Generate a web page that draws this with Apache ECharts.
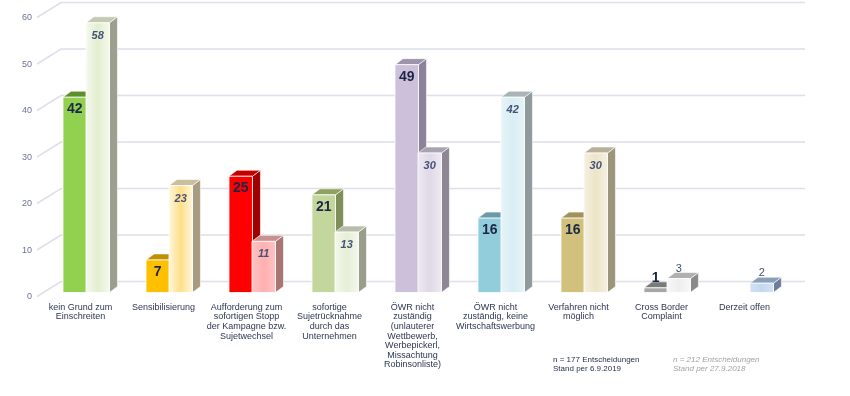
<!DOCTYPE html>
<html>
<head>
<meta charset="utf-8">
<script src="https://cdn.jsdelivr.net/npm/echarts@6/dist/echarts.min.js"></script>
<style>
html,body{margin:0;padding:0;background:#fff;}
#chart{width:850px;height:396px;}
</style>
</head>
<body>
<div id="chart"></div>
<script>
// ---- data ----
const categories = [
  'kein Grund zum\nEinschreiten',
  'Sensibilisierung',
  'Aufforderung zum\nsofortigen Stopp\nder Kampagne bzw.\nSujetwechsel',
  'sofortige\nSujetrücknahme\ndurch das\nUnternehmen',
  'ÖWR nicht\nzuständig\n(unlauterer\nWettbewerb,\nWerbepickerl,\nMissachtung\nRobinsonliste)',
  'ÖWR nicht\nzuständig, keine\nWirtschaftswerbung',
  'Verfahren nicht\nmöglich',
  'Cross Border\nComplaint',
  'Derzeit offen'
];
const values2019 = [42, 7, 25, 21, 49, 16, 16, 1, null];
const values2018 = [58, 23, 11, 13, 30, 42, 30, 3, 2];
const yTicks = [0, 10, 20, 30, 40, 50, 60];
const note2019 = ['n = 177 Entscheidungen', 'Stand per 6.9.2019'];
const note2018 = ['n = 212 Entscheidungen', 'Stand per 27.9.2018'];

// ---- styles ----
const colors2019 = [
  ['#92d050', '#5f8f2a', '#6a9a36'],
  ['#ffc000', '#c09000', '#b08a10'],
  ['#ff0000', '#c40000', '#a00000'],
  ['#c3d69b', '#8fa063', '#7f8f5a'],
  ['#ccc0da', '#9d93ab', '#8c8299'],
  ['#92cddc', '#6a9aa8', '#5f8a96'],
  ['#d1c17c', '#a0925a', '#8f8350'],
  ['#a6a6a6', '#7a7a7a', '#6f6f6f'],
  ['#cccccc', '#999999', '#888888']
];
const colors2018 = [
  ['#e3eecf', '#f5f9ee', '#c4c8b4', '#9c9f8e'],
  ['#fddf88', '#fff7de', '#cbbf9f', '#a89c80'],
  ['#ffb0b0', '#ffc2c2', '#c89090', '#a87474'],
  ['#e5eed6', '#f4f8ed', '#b8bcaa', '#9a9d8b'],
  ['#e0d9e8', '#ede9f2', '#a9a3b0', '#8d8794'],
  ['#d9edf3', '#e7f4f8', '#a8b4b6', '#8e9a9c'],
  ['#ede4c8', '#f5f0e0', '#b8b098', '#9c957c'],
  ['#eeeeee', '#f8f8f8', '#b0b0b0', '#8a8a8a'],
  ['#c3d7f0', '#d3e2f5', '#8aa0b8', '#6e8098']
];

const FONT = '"Liberation Sans", Arial, sans-serif';
const DX = 8, DY = 6;

function makeBar(seriesIdx) {
  return function (params, api) {
    const i = api.value(0), v = api.value(1);
    if (v == null || isNaN(v)) return;
    const top = api.coord([i, v]);
    const base = api.coord([i, 0]);
    const band = api.size([1, 0])[0];
    const w = band * 0.283;
    const x0 = top[0] + band * (seriesIdx === 0 ? -0.211 : 0.066);
    const ty = top[1], by = base[1];
    let front, topC, sideC;
    if (seriesIdx === 0) {
      const c = colors2019[i];
      front = c[0]; topC = c[1]; sideC = c[2];
    } else {
      const c = colors2018[i];
      front = {
        type: 'linear', x: 0, y: 0, x2: 1, y2: 0,
        colorStops: [
          { offset: 0, color: c[1] },
          { offset: 0.5, color: c[0] },
          { offset: 1, color: c[1] }
        ]
      };
      topC = c[2]; sideC = c[3];
    }
    const children = [
      {
        type: 'polygon',
        shape: { points: [[x0 + w, ty], [x0 + w + DX, ty - DY], [x0 + w + DX, by - DY], [x0 + w, by]] },
        style: { fill: sideC, stroke: '#ffffff', lineWidth: 0.6 }
      },
      {
        type: 'polygon',
        shape: { points: [[x0, ty], [x0 + DX, ty - DY], [x0 + w + DX, ty - DY], [x0 + w, ty]] },
        style: { fill: topC, stroke: '#ffffff', lineWidth: 0.6 }
      },
      {
        type: 'rect',
        shape: { x: x0, y: ty, width: w, height: by - ty },
        style: { fill: front, stroke: '#ffffff', lineWidth: 0.8 }
      }
    ];
    const small = (by - ty) < 20;
    const ly = small ? ty - 10 : ty + (seriesIdx === 0 ? 12 : 13);
    children.push({
      type: 'text',
      style: {
        x: x0 + w / 2, y: ly,
        text: String(v),
        align: 'center', verticalAlign: 'middle',
        font: seriesIdx === 0
          ? 'bold 14px ' + FONT
          : (small ? 'normal 11px ' + FONT : 'italic bold 11px ' + FONT),
        fill: seriesIdx === 0 ? '#1c2748' : '#465178'
      }
    });
    return { type: 'group', children: children };
  };
}

function gridItem(params, api) {
  const v = api.value(1);
  const y = api.coord([0, v])[1];
  const cs = params.coordSys;
  const xa = cs.x - 2, xb = cs.x + 22, xc = cs.x + cs.width + 19;
  return {
    type: 'polyline',
    shape: { points: [[xa, y + 4], [xb, y - 11], [xc, y - 11]] },
    style: { stroke: '#dde0ea', lineWidth: 1.6, fill: null }
  };
}

const chart = echarts.init(document.getElementById('chart'), null, { renderer: 'canvas' });
chart.setOption({
  animation: false,
  backgroundColor: '#ffffff',
  grid: { left: 39, width: 747, top: 13.5, bottom: 103.5, containLabel: false },
  xAxis: {
    type: 'category',
    data: categories,
    axisLine: { show: false },
    axisTick: { show: false },
    splitLine: { show: false },
    axisLabel: {
      interval: 0,
      margin: 10,
      fontFamily: FONT,
      fontSize: 9,
      lineHeight: 9.6,
      color: '#2c3753',
      align: 'center'
    }
  },
  yAxis: {
    type: 'value',
    min: 0, max: 60, interval: 10,
    axisLine: { show: false },
    axisTick: { show: false },
    splitLine: { show: false },
    axisLabel: {
      margin: 7,
      fontFamily: FONT,
      fontSize: 9,
      color: '#6b7394',
      verticalAlign: 'top'
    }
  },
  series: [
    {
      type: 'custom',
      renderItem: gridItem,
      data: yTicks.map(t => [0, t]),
      silent: true
    },
    {
      type: 'custom',
      renderItem: makeBar(0),
      data: values2019.map((v, i) => [i, v]),
      encode: { x: 0, y: 1 }
    },
    {
      type: 'custom',
      renderItem: makeBar(1),
      data: values2018.map((v, i) => [i, v]),
      encode: { x: 0, y: 1 }
    }
  ],
  graphic: [
    {
      type: 'text', left: 553, top: 355,
      style: { text: note2019.join('\n'), font: '8px ' + FONT, lineHeight: 9.5, fill: '#1f2a48' }
    },
    {
      type: 'text', left: 673, top: 355,
      style: { text: note2018.join('\n'), font: 'italic 8px ' + FONT, lineHeight: 9.5, fill: '#a3a3a8' }
    }
  ]
});
</script>
</body>
</html>
